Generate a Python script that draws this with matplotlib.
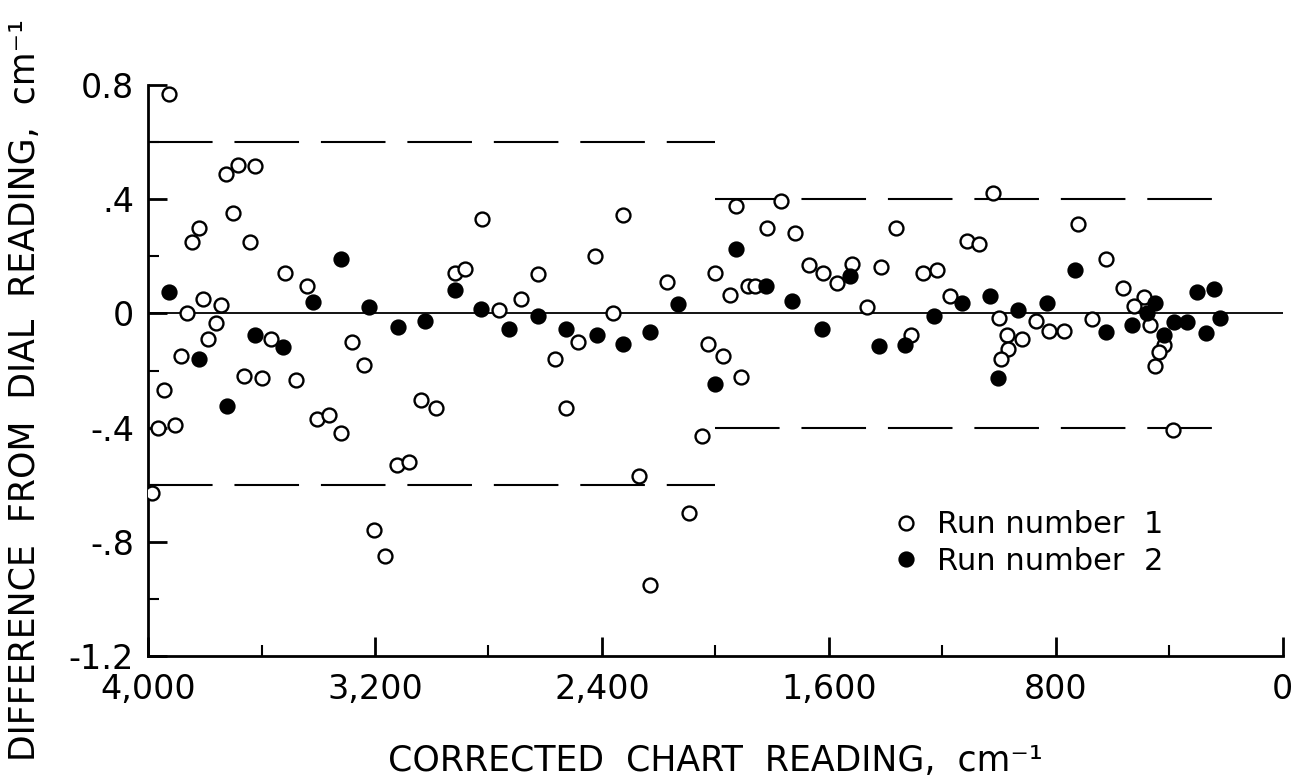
import matplotlib
matplotlib.use('Agg')
import matplotlib.pyplot as plt
from matplotlib.ticker import MultipleLocator

# run number 1 (open circles)
run1_x = [3926, 3725, 3682, 3624, 3701, 3821, 3846, 3641, 3516, 3441,
          3807, 3743, 3864, 3762, 3788, 3565, 3281, 3884, 3239, 3944,
          3965, 3906, 3662, 3598, 3479, 3404, 3361, 3321, 3987, 3122,
          3081, 3202, 3163, 3038, 2985, 2822, 2918, 2883, 2763, 2686,
          2627, 2484, 2566, 2425, 2327, 2360, 2170, 2000, 2027, 2528,
          2047, 2268, 2092, 2230, 1927, 1769, 1818, 1718, 1950, 1886,
          1860, 1671, 1621, 1572, 1519, 1467, 1417, 1364, 1312, 1268,
          1218, 1173, 1112, 1071, 1021, 1974, 1910, 999, 974, 968,
          992, 919, 870, 825, 770, 723, 672, 623, 565, 488,
          523, 470, 418, 438, 450, 388]
run1_y = [0.77, 0.49, 0.52, 0.515, 0.35, 0.30, 0.25, 0.25, 0.14, 0.095,
          0.05, 0.03, 0.0, -0.033, -0.09, -0.09, -0.10, -0.15, -0.18, -0.27,
          -0.40, -0.39, -0.22, -0.225, -0.235, -0.37, -0.355, -0.42, -0.63, -0.53,
          -0.52, -0.76, -0.85, -0.305, -0.33, 0.33, 0.14, 0.155, 0.012, 0.05,
          0.137, -0.10, -0.16, 0.20, 0.345, 0.003, 0.11, 0.14, -0.108, -0.333,
          -0.43, -0.57, -0.70, -0.95, 0.375, 0.395, 0.30, 0.283, 0.063, 0.096,
          0.096, 0.17, 0.14, 0.108, 0.172, 0.022, 0.163, 0.30, -0.076, 0.143,
          0.152, 0.061, 0.252, 0.242, 0.423, -0.15, -0.222, -0.015, -0.076, -0.126,
          -0.158, -0.088, -0.025, -0.06, -0.06, 0.312, -0.019, 0.19, 0.09, 0.057,
          0.026, -0.041, -0.111, -0.134, -0.185, -0.41]

# run number 2 (filled circles)
run2_x = [3319, 3420, 3926, 3220, 3119, 3023, 3624, 3523, 3821, 3721,
          2918, 2826, 2625, 2726, 2526, 2418, 2325, 2230, 2131, 2000,
          1929, 1822, 1729, 1527, 1626, 1425, 1333, 1228, 1130, 1034,
          1003, 933, 831, 734, 625, 450, 479, 532, 418, 385,
          338, 303, 242, 270, 221]
run2_y = [0.19, 0.04, 0.075, 0.022, -0.046, -0.027, -0.075, -0.118, -0.158, -0.325,
          0.081, 0.014, -0.009, -0.054, -0.054, -0.076, -0.108, -0.066, 0.034, -0.247,
          0.225, 0.096, 0.043, 0.131, -0.053, -0.115, -0.109, -0.009, 0.038, 0.061,
          -0.227, 0.011, 0.035, 0.151, -0.064, 0.035, 0.002, -0.041, -0.076, -0.03,
          -0.03, 0.075, 0.087, -0.068, -0.015]

# tolerance limits
limit_hi_x = [4000, 2000]
limit_hi = 0.6
limit_lo_x = [2000, 200]
limit_lo = 0.4

x_ticks = [4000, 3200, 2400, 1600, 800, 0]
x_labels = ['4,000', '3,200', '2,400', '1,600', '800', '0']
y_ticks = [0.8, 0.4, 0, -0.4, -0.8, -1.2]
y_labels = ['0.8', '.4', '0', '-.4', '-.8', '-1.2']

fig = plt.figure(figsize=(12.94, 7.80), dpi=100)
ax = fig.add_axes([0.1144, 0.159, 0.877, 0.732])

dash = (0, (31, 10.5))
for sign in (1, -1):
    ax.plot(limit_hi_x, [sign * limit_hi] * 2, color='black', lw=1.5, linestyle=dash)
    ax.plot(limit_lo_x, [sign * limit_lo] * 2, color='black', lw=1.5, linestyle=dash)
ax.axhline(0, color='black', lw=1.3)

h1, = ax.plot(run1_x, run1_y, 'o', ms=10, mfc='white', mec='black', mew=1.7,
              linestyle='none', label='Run number  1', zorder=3)
h2, = ax.plot(run2_x, run2_y, 'o', ms=10, mfc='black', mec='black', mew=1.7,
              linestyle='none', label='Run number  2', zorder=3)

ax.set_xlim(4000, 0)
ax.set_ylim(-1.2, 0.8)

ax.spines['top'].set_visible(False)
ax.spines['right'].set_visible(False)
ax.spines['left'].set_linewidth(2)
ax.spines['bottom'].set_linewidth(2)

ax.set_xticks(x_ticks)
ax.set_xticklabels(x_labels)
ax.set_yticks(y_ticks)
ax.set_yticklabels(y_labels)
ax.xaxis.set_minor_locator(MultipleLocator(400))
ax.yaxis.set_minor_locator(MultipleLocator(0.2))
ax.tick_params(which='major', direction='in', length=14, width=2, labelsize=24)
ax.tick_params(which='minor', direction='in', length=8, width=1.5)
ax.tick_params(axis='x', pad=12)
ax.tick_params(axis='y', pad=10)

ax.legend(handles=[h1, h2], loc='upper left', bbox_to_anchor=(0.66, 0.255),
          frameon=False, fontsize=22, handlelength=0.6, handletextpad=0.7,
          labelspacing=0.25, borderpad=0, borderaxespad=0)

fig.text(0.553, 0.0115, 'CORRECTED  CHART  READING,  cm\u207b\u00b9', fontsize=25,
         ha='center', va='baseline')
fig.text(0.019, 0.5, 'DIFFERENCE  FROM  DIAL  READING,  cm\u207b\u00b9', fontsize=25,
         ha='center', va='center', rotation=90)

fig.savefig('out.png', dpi=100)
